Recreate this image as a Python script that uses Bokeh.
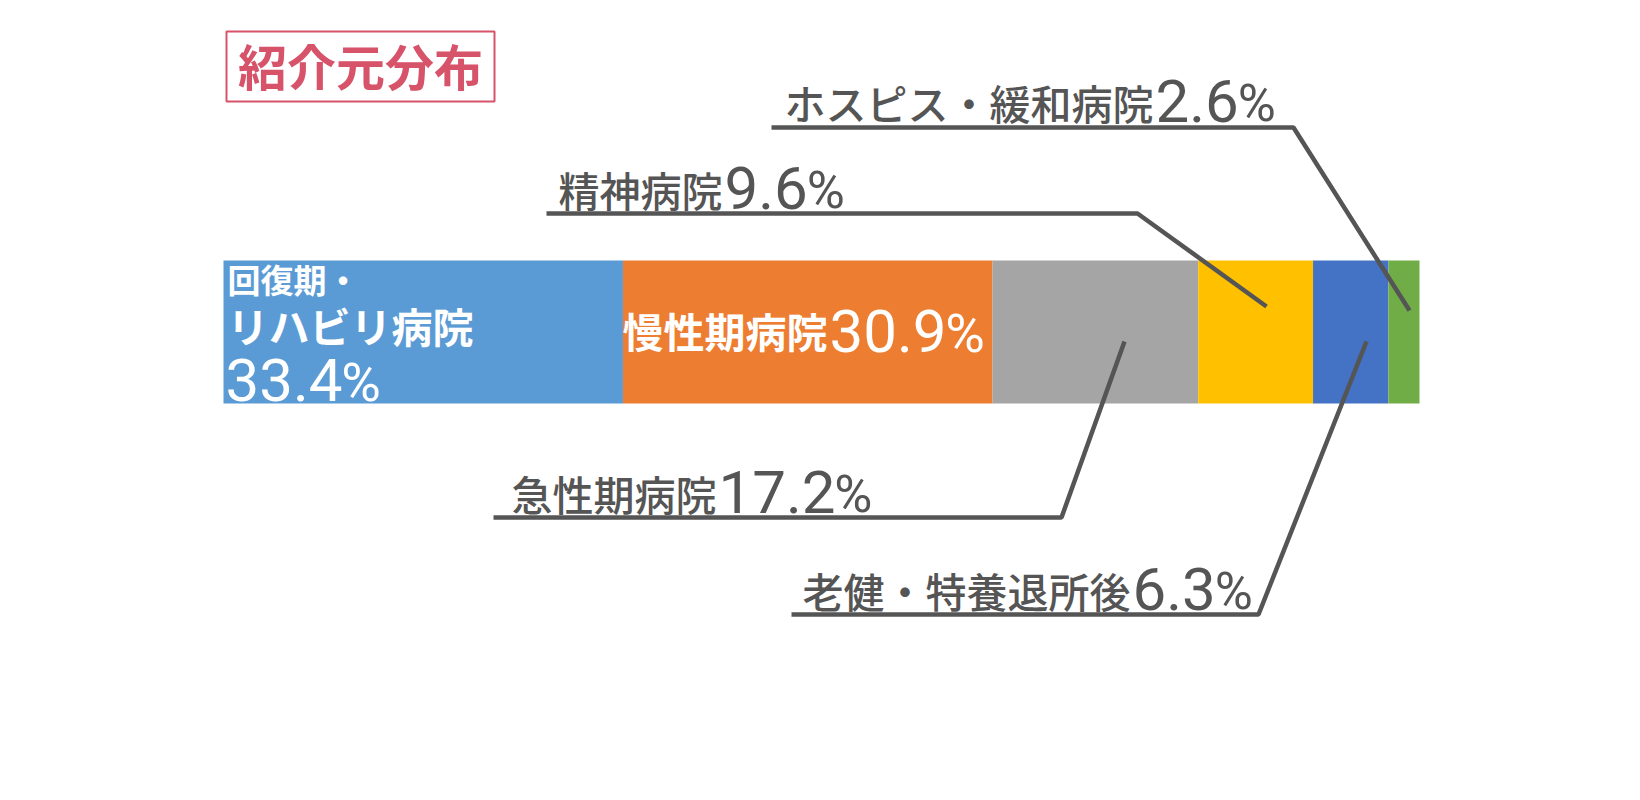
from bokeh.plotting import figure
from bokeh.models import Range1d
from bokeh.core.properties import value
from bokeh.embed import file_html
from bokeh.resources import INLINE

# ---- data ----
categories = ["回復期・リハビリ病院", "慢性期病院", "急性期病院", "精神病院", "老健・特養退所後", "ホスピス・緩和病院"]
shares = [33.4, 30.9, 17.2, 9.6, 6.3, 2.6]
colors = ["#5B9BD5", "#ED7D31", "#A5A5A5", "#FFC000", "#4472C4", "#70AD47"]
title_text = "紹介元分布"

# ---- layout (pixel geometry) ----
W, H = 1640, 800
BAR_LEFT, BAR_RIGHT = 223, 1419
SCALE = (BAR_RIGHT - BAR_LEFT) / 100.0


def X(px):
    """convert a pixel x position into data units (percent)"""
    return (px - BAR_LEFT) / SCALE


p = figure(width=W, height=H, output_backend="svg", toolbar_location=None,
           x_axis_type=None, y_axis_type=None, min_border=0,
           x_range=Range1d(X(0), X(W)), y_range=Range1d(H, 0))
p.outline_line_color = None
p.grid.visible = False
p.background_fill_color = "white"
p.border_fill_color = "white"

# ---- stacked bar ----
starts, ends = [], []
acc = 0.0
for v in shares:
    starts.append(acc)
    acc += v
    ends.append(acc)
p.quad(left=starts, right=ends, top=[260] * len(shares), bottom=[403] * len(shares),
       fill_color=colors, line_color=None)

JP_FONT = "Noto Sans CJK JP Medium"
JP_BOLD = "Noto Sans CJK JP"
NUM = value("Roboto")
GRAY = "#555555"


def num_width(s, size):
    w = 0.0
    for ch in s:
        w += 0.2632 if ch == "." else 0.5615
    return w * size


def jp_text(x_px, ink_center, txt, size, color, align, font=JP_FONT, style="normal"):
    p.text(x=[X(x_px)], y=[ink_center - 0.05 * size], text=[txt], text_font=value(font),
           text_font_size=value(f"{size}px"), text_color=color, text_align=align,
           text_baseline="middle", text_font_style=style)


def pct_label(num_x, base_y, num_text, color, num_size, pct_size):
    p.text(x=[X(num_x)], y=[base_y - 0.3415 * num_size], text=[num_text], text_font=NUM,
           text_font_size=value(f"{num_size}px"), text_color=color,
           text_align="left", text_baseline="middle")
    px_ = num_x + num_width(num_text, num_size) - 1
    p.text(x=[X(px_)], y=[base_y - 0.3415 * pct_size], text=["%"], text_font=NUM,
           text_font_size=value(f"{pct_size}px"), text_color=color,
           text_align="left", text_baseline="middle")


# ---- outside labels with leader lines ----
outer = {
    2: dict(num_x=718, base=512, line=[(493, 517), (1061, 517), (1124, 341)]),
    3: dict(num_x=724, base=208, line=[(546, 213), (1137, 213), (1266, 306)]),
    4: dict(num_x=1132, base=609, line=[(791, 614), (1258, 614), (1366, 341)]),
    5: dict(num_x=1155, base=121, line=[(771, 127), (1293, 127), (1409, 310)]),
}
for i, spec in outer.items():
    xs = [X(a) for a, b in spec["line"]]
    ys = [b for a, b in spec["line"]]
    p.line(xs, ys, line_color=GRAY, line_width=4.5)
    jp_text(spec["num_x"] - 2, spec["base"] - 17, categories[i], 41, GRAY, "right")
    pct_label(spec["num_x"], spec["base"], f"{shares[i]:.1f}", GRAY, 60, 52)

# ---- inside labels ----
# orange
jp_text(827, 332, categories[1], 41, "white", "right", font=JP_BOLD, style="bold")
pct_label(829, 351, f"{shares[1]:.1f}", "white", 60, 54)

# blue (three lines)
name0 = categories[0]
jp_text(227, 280, name0[:4], 33, "white", "left", font=JP_BOLD, style="bold")
jp_text(227, 327, name0[4:], 41, "white", "left", font=JP_BOLD, style="bold")
pct_label(225, 400, f"{shares[0]:.1f}", "white", 60, 54)

# ---- title box ----
p.quad(left=[X(226)], right=[X(494)], top=[31], bottom=[101], fill_color=None,
       line_color="#D6536A", line_width=2)
jp_text(360, 66, title_text, 49, "#D6536A", "center", font=JP_BOLD, style="bold")

open("out.html", "w").write(file_html(p, INLINE))
